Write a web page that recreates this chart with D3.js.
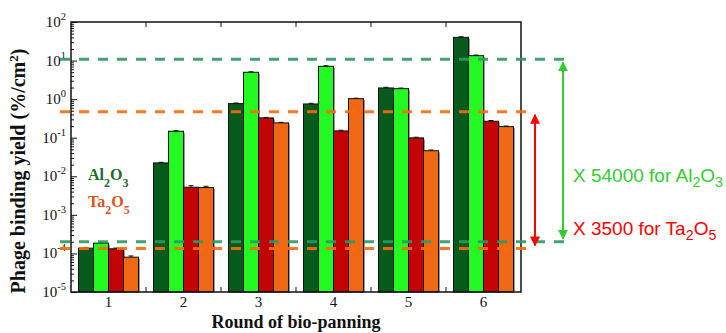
<!DOCTYPE html>
<html>
<head>
<meta charset="utf-8">
<script src="https://cdn.jsdelivr.net/npm/d3@7"></script>
<style>
  body { margin: 0; background: #fff; }
</style>
</head>
<body>
<script>
'use strict';

var SERIF = "'Liberation Serif', 'Times New Roman', serif";
var SANS = "'Liberation Sans', Arial, sans-serif";

// rounds of bio-panning
var rounds = ["1", "2", "3", "4", "5", "6"];
var seriesKeys = ["al_a", "al_b", "ta_a", "ta_b"];
var seriesColors = ["#065a1c", "#22fa22", "#c20404", "#f06814"];

// phage binding yield (%/cm2)
var alA = [1.37e-4, 0.0222, 0.766, 0.75, 1.95, 40];
var alB = [1.85e-4, 0.147, 4.97, 7.1, 1.87, 13.4];
var taA = [1.32e-4, 0.0052, 0.326, 0.15, 0.099, 0.267];
var taB = [8.0e-5, 0.0051, 0.242, 1.03, 0.046, 0.194];

// error bar half heights
var alAErr = [0.06e-4, 0.0008, 0.03, 0.03, 0.08, 1.5];
var alBErr = [0.06e-4, 0.005, 0.15, 0.25, 0.07, 0.5];
var taAErr = [0.06e-4, 0.0005, 0.01, 0.006, 0.004, 0.012];
var taBErr = [0.06e-4, 0.0004, 0.008, 0.03, 0.002, 0.007];

// reference levels (round 1 vs maximum)
var alLevels = [2.0e-4, 10.8];
var taLevels = [1.35e-4, 0.47];
var foldLabels = ["54000", "3500"];

var yTickExp = [-5, -4, -3, -2, -1, 0, 1, 2];

var _width = 726, _height = 333;
var margin = {top: 22, right: 205, bottom: 41, left: 71};
var plotW = _width - margin.left - margin.right;
var plotH = _height - margin.top - margin.bottom;

var values = [alA, alB, taA, taB];
var errors = [alAErr, alBErr, taAErr, taBErr];

var data = [];
rounds.forEach(function(r, i) {
  seriesKeys.forEach(function(k, j) {
    data.push({round: r, key: k, value: values[j][i], err: errors[j][i], color: seriesColors[j]});
  });
});

var svg = d3.select("body").append("svg")
    .attr("width", _width)
    .attr("height", _height);

var defs = svg.append("defs");
function addArrow(id, color) {
  var m = defs.append("marker")
      .attr("id", id)
      .attr("viewBox", "0 0 10 10")
      .attr("refX", 9).attr("refY", 5)
      .attr("markerWidth", 5).attr("markerHeight", 5)
      .attr("markerUnits", "strokeWidth")
      .attr("orient", "auto-start-reverse");
  m.append("path").attr("d", "M0,0 L10,5 L0,10 z").attr("fill", color);
}
addArrow("arrowGreen", "#33cc33");
addArrow("arrowRed", "#ff0000");

var xScale = d3.scaleBand().domain(rounds)
    .range([margin.left, margin.left + plotW])
    .paddingInner(0.2).paddingOuter(0.1);
var xInner = d3.scaleBand().domain(seriesKeys).range([0, xScale.bandwidth()]);
var yScale = d3.scaleLog().domain([1e-5, 1e2]).range([margin.top + plotH, margin.top]);

// bars with a grey drop shadow
var barsGroup = svg.append("g").attr("class", "bars");
var bar = barsGroup.selectAll("g.bar").data(data).enter().append("g");

bar.append("rect")
    .attr("x", function(d) { return xScale(d.round) + xInner(d.key) + 1.5; })
    .attr("y", function(d) { return yScale(d.value) + 1.5; })
    .attr("width", xInner.bandwidth())
    .attr("height", function(d) { return yScale(1e-5) - yScale(d.value) - 1.5; })
    .attr("fill", "#9a9a9a");

bar.append("rect")
    .attr("x", function(d) { return xScale(d.round) + xInner(d.key); })
    .attr("y", function(d) { return yScale(d.value); })
    .attr("width", xInner.bandwidth())
    .attr("height", function(d) { return yScale(1e-5) - yScale(d.value); })
    .attr("fill", function(d) { return d.color; })
    .attr("stroke", "#111")
    .attr("stroke-width", 1);

// error bars
bar.append("path")
    .attr("fill", "none")
    .attr("stroke", "#111")
    .attr("stroke-width", 1)
    .attr("d", function(d) {
      var cx = xScale(d.round) + xInner(d.key) + xInner.bandwidth() / 2;
      var y1 = yScale(d.value + d.err);
      return "M" + cx + "," + yScale(d.value) + "V" + y1 +
             "M" + (cx - 2.5) + "," + y1 + "H" + (cx + 2.5);
    });

// frame
svg.append("rect")
    .attr("x", margin.left).attr("y", margin.top)
    .attr("width", plotW).attr("height", plotH)
    .attr("fill", "none")
    .attr("stroke", "#111")
    .attr("stroke-width", 1.5);

// y ticks (inward), major and minor
var minor = [];
yTickExp.slice(0, -1).forEach(function(e) {
  for (var m = 2; m <= 9; m++) minor.push(m * Math.pow(10, e));
});
var major = yTickExp.map(function(e) { return Math.pow(10, e); });

svg.append("g")
    .attr("transform", "translate(" + margin.left + ",0)")
    .call(d3.axisRight(yScale).tickValues(minor).tickSize(3).tickFormat(""))
    .call(function(g) { g.select(".domain").remove(); g.selectAll("line").attr("stroke", "#111"); });
svg.append("g")
    .attr("transform", "translate(" + margin.left + ",0)")
    .call(d3.axisRight(yScale).tickValues(major).tickSize(6).tickFormat(""))
    .call(function(g) { g.select(".domain").remove(); g.selectAll("line").attr("stroke", "#111"); });

// y tick labels 10^n
var yLab = svg.append("g").attr("font-family", SERIF);
yTickExp.forEach(function(e) {
  var t = yLab.append("text")
      .attr("x", margin.left - 5)
      .attr("y", yScale(Math.pow(10, e)) + 5)
      .attr("text-anchor", "end")
      .attr("font-size", 15)
      .attr("fill", "#111");
  t.append("tspan").text("10");
  t.append("tspan").attr("dy", -7).attr("font-size", 10.5).text(String(e));
});

// x ticks at group boundaries, top and bottom, inward
var bounds = rounds.slice(1).map(function(r) {
  return xScale(r) - xScale.step() * xScale.paddingInner() / 2;
});
var xt = svg.append("g").attr("stroke", "#111");
bounds.forEach(function(bx) {
  xt.append("line").attr("x1", bx).attr("x2", bx)
      .attr("y1", margin.top).attr("y2", margin.top + 5);
  xt.append("line").attr("x1", bx).attr("x2", bx)
      .attr("y1", margin.top + plotH).attr("y2", margin.top + plotH - 5);
});

svg.append("g").attr("font-family", SERIF)
    .selectAll("text").data(rounds).enter().append("text")
    .attr("x", function(r) { return xScale(r) + xScale.bandwidth() / 2; })
    .attr("y", margin.top + plotH + 15)
    .attr("text-anchor", "middle")
    .attr("font-size", 15)
    .attr("fill", "#111")
    .text(function(r) { return r; });

// axis titles
svg.append("text").attr("font-family", SERIF)
    .attr("x", margin.left + plotW / 2)
    .attr("y", 328)
    .attr("text-anchor", "middle")
    .attr("font-size", 18)
    .attr("font-weight", "bold")
    .attr("fill", "#111")
    .text("Round of bio-panning");

var yt = svg.append("text").attr("font-family", SERIF)
    .attr("transform", "translate(25,171) rotate(-90)")
    .attr("text-anchor", "middle")
    .attr("font-size", 20)
    .attr("font-weight", "bold")
    .attr("fill", "#111");
yt.append("tspan").text("Phage binding yield (%/cm");
yt.append("tspan").attr("dy", -7).attr("font-size", 13).text("2");
yt.append("tspan").attr("dy", 7).text(")");

// chemical formula helper
function formula(g, x, y, parts, size, subShift) {
  var t = g.append("text").attr("x", x).attr("y", y);
  parts.forEach(function(p, i) {
    var s = t.append("tspan").text(p);
    if (i % 2 === 1) s.attr("dy", subShift).attr("font-size", size * 0.75);
    else if (i > 0) s.attr("dy", -subShift);
  });
  return t;
}

// legend
var legend = svg.append("g").attr("font-family", SERIF)
    .attr("font-size", 16).attr("font-weight", "bold");
formula(legend, 88, 180, ["Al", "2", "O", "3"], 16, 7).attr("fill", "#1b6b2a");
formula(legend, 88, 207, ["Ta", "2", "O", "5"], 16, 7).attr("fill", "#e2521c");

// reference dashed lines
var refLines = svg.append("g").attr("stroke-width", 3).attr("stroke-dasharray", "10,9")
    .attr("opacity", 0.9);
alLevels.forEach(function(v) {
  refLines.append("line").attr("x1", 60).attr("x2", 566)
      .attr("y1", yScale(v)).attr("y2", yScale(v)).attr("stroke", "#2e9a62");
});
taLevels.forEach(function(v) {
  refLines.append("line").attr("x1", 60).attr("x2", 534)
      .attr("y1", yScale(v)).attr("y2", yScale(v)).attr("stroke", "#ff6a08");
});

// fold-change arrows
svg.append("line")
    .attr("x1", 563).attr("x2", 563)
    .attr("y1", yScale(alLevels[0]) - 3).attr("y2", yScale(alLevels[1]) + 3)
    .attr("stroke", "#33cc33").attr("stroke-width", 2)
    .attr("marker-start", "url(#arrowGreen)").attr("marker-end", "url(#arrowGreen)");
svg.append("line")
    .attr("x1", 535).attr("x2", 535)
    .attr("y1", yScale(taLevels[0]) - 3).attr("y2", yScale(taLevels[1]) + 3)
    .attr("stroke", "#ff0000").attr("stroke-width", 2)
    .attr("marker-start", "url(#arrowRed)").attr("marker-end", "url(#arrowRed)");

var notes = svg.append("g").attr("font-family", SANS).attr("font-size", 19);
formula(notes, 573, 182, ["X " + foldLabels[0] + " for Al", "2", "O", "3"], 19, 5).attr("fill", "#33cc33");
formula(notes, 573, 235, ["X " + foldLabels[1] + " for Ta", "2", "O", "5"], 19, 5).attr("fill", "#ff0000");
</script>
</body>
</html>
